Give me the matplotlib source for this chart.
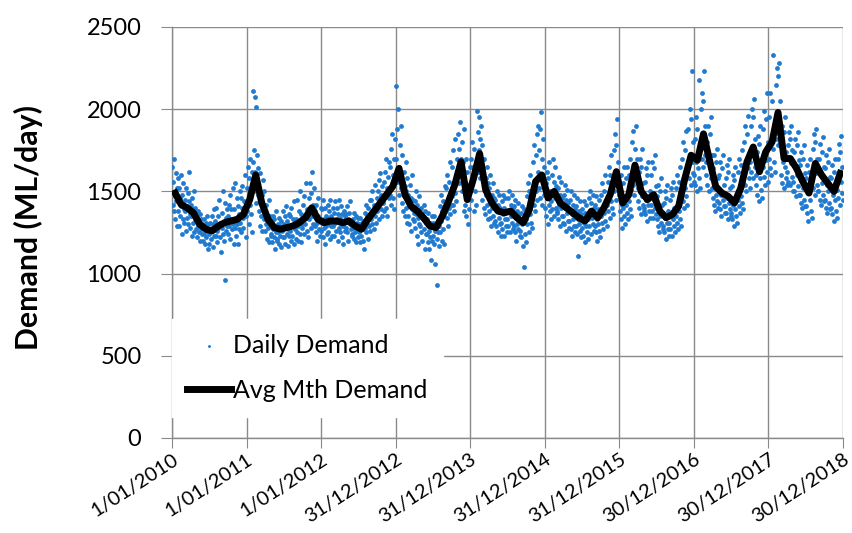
import numpy as np
import matplotlib
matplotlib.use("Agg")
import matplotlib.pyplot as plt
import matplotlib.dates as mdates

years = [2010, 2011, 2012, 2013, 2014, 2015, 2016, 2017, 2018]

# Average monthly demand (ML/day), Jan 2010 .. Dec 2018
monthly_avg = [
    1490, 1420, 1400, 1370, 1300, 1270, 1260, 1290, 1310, 1320, 1330, 1360,
    1450, 1600, 1430, 1330, 1280, 1270, 1280, 1290, 1310, 1340, 1400, 1330,
    1310, 1320, 1320, 1310, 1320, 1290, 1270, 1330, 1380, 1430, 1480, 1530,
    1640, 1480, 1410, 1380, 1340, 1290, 1280, 1350, 1440, 1540, 1680, 1450,
    1580, 1730, 1510, 1430, 1380, 1370, 1380, 1340, 1310, 1390, 1560, 1600,
    1460, 1500, 1430, 1400, 1370, 1340, 1320, 1380, 1340, 1400, 1480, 1620,
    1430, 1480, 1660, 1500, 1450, 1480, 1380, 1340, 1360, 1410, 1580, 1720,
    1690, 1850, 1690, 1530, 1490, 1470, 1430, 1520, 1680, 1770, 1620, 1740,
    1800, 1980, 1700, 1700, 1640, 1560, 1490, 1670, 1600, 1550, 1500, 1610,
]

# Daily demand readings (12 readings per month, in month order)
daily_2010 = [
    1650, 1420, 1560, 1380, 1700, 1470, 1330, 1610, 1440, 1520, 1290, 1580,
    1380, 1520, 1290, 1460, 1350, 1600, 1410, 1240, 1480, 1330, 1550, 1390,
    1310, 1450, 1380, 1520, 1260, 1410, 1340, 1490, 1300, 1440, 1620, 1360,
    1280, 1420, 1350, 1230, 1460, 1310, 1390, 1250, 1500, 1330, 1400, 1270,
    1220, 1340, 1290, 1380, 1250, 1310, 1200, 1360, 1270, 1330, 1240, 1300,
    1200, 1290, 1240, 1330, 1180, 1270, 1310, 1220, 1350, 1260, 1150, 1300,
    1240, 1180, 1310, 1260, 1210, 1350, 1280, 1160, 1300, 1230, 1390, 1270,
    1320, 1230, 1400, 1260, 1190, 1350, 1280, 1450, 1220, 1310, 1130, 1290,
    1280, 1370, 1240, 1500, 1310, 1200, 1430, 960, 1340, 1260, 1390, 1290,
    1350, 1240, 1420, 1290, 1480, 1210, 1330, 1390, 1270, 1520, 1300, 1180,
    1390, 1280, 1550, 1320, 1230, 1460, 1300, 1410, 1180, 1360, 1270, 1500,
    1310, 1460, 1250, 1400, 1530, 1340, 1280, 1440, 1370, 1600, 1220, 1350,
]
daily_2011 = [
    1520, 1380, 1650, 1440, 1300, 1580, 1700, 1420, 1360, 1490, 1620, 1250,
    2110, 1680, 1750, 1500, 2075, 1620, 1430, 2015, 1560, 1720, 1480, 1640,
    1380, 1520, 1290, 1610, 1450, 1350, 1480, 1260, 1570, 1400, 1330, 1500,
    1260, 1380, 1300, 1420, 1210, 1340, 1280, 1450, 1190, 1350, 1310, 1240,
    1230, 1310, 1190, 1350, 1270, 1220, 1330, 1150, 1290, 1250, 1380, 1200,
    1210, 1300, 1250, 1180, 1340, 1230, 1290, 1160, 1320, 1260, 1220, 1380,
    1300, 1220, 1350, 1180, 1280, 1410, 1240, 1320, 1170, 1270, 1360, 1230,
    1260, 1350, 1200, 1400, 1290, 1230, 1330, 1180, 1440, 1270, 1310, 1210,
    1330, 1250, 1450, 1290, 1200, 1380, 1310, 1500, 1240, 1360, 1190, 1300,
    1280, 1420, 1330, 1240, 1470, 1350, 1300, 1550, 1260, 1390, 1220, 1340,
    1460, 1330, 1550, 1380, 1280, 1490, 1620, 1350, 1420, 1300, 1520, 1390,
    1290, 1380, 1250, 1420, 1310, 1200, 1350, 1460, 1270, 1330, 1230, 1400,
]
daily_2012 = [
    1260, 1390, 1310, 1450, 1220, 1330, 1280, 1400, 1180, 1350, 1290, 1240,
    1340, 1250, 1420, 1300, 1380, 1210, 1450, 1290, 1350, 1230, 1320, 1400,
    1290, 1370, 1230, 1440, 1310, 1260, 1400, 1330, 1200, 1360, 1280, 1450,
    1250, 1340, 1300, 1410, 1220, 1360, 1290, 1180, 1380, 1310, 1260, 1350,
    1360, 1280, 1410, 1250, 1330, 1200, 1370, 1300, 1440, 1270, 1320, 1230,
    1240, 1330, 1280, 1370, 1210, 1300, 1250, 1350, 1190, 1310, 1270, 1340,
    1220, 1300, 1250, 1340, 1190, 1280, 1230, 1310, 1200, 1320, 1150, 1270,
    1280, 1370, 1250, 1420, 1300, 1350, 1210, 1400, 1290, 1330, 1450, 1260,
    1330, 1450, 1300, 1500, 1380, 1270, 1420, 1350, 1540, 1310, 1400, 1460,
    1380, 1500, 1420, 1570, 1330, 1460, 1610, 1390, 1480, 1350, 1530, 1440,
    1430, 1560, 1380, 1620, 1470, 1700, 1400, 1520, 1350, 1590, 1460, 1680,
    1480, 1650, 1420, 1760, 1530, 1850, 1460, 1600, 1390, 1700, 1550, 1820,
]
daily_2013 = [
    2140, 1700, 1880, 1560, 2000, 1650, 1480, 1780, 1600, 1900, 1520, 1720,
    1430, 1560, 1380, 1620, 1470, 1350, 1530, 1680, 1400, 1500, 1310, 1580,
    1350, 1480, 1300, 1540, 1420, 1260, 1460, 1390, 1600, 1330, 1450, 1370,
    1320, 1440, 1280, 1500, 1360, 1230, 1420, 1340, 1180, 1470, 1300, 1390,
    1290, 1400, 1250, 1360, 1200, 1330, 1420, 1270, 1150, 1380, 1310, 1240,
    1240, 1330, 1190, 1370, 1260, 1150, 1310, 1220, 1080, 1290, 1350, 1200,
    1230, 1310, 1180, 1350, 1260, 1060, 1290, 1210, 930, 1320, 1250, 1170,
    1290, 1410, 1250, 1480, 1320, 1200, 1380, 1440, 1270, 1350, 1180, 1530,
    1380, 1520, 1340, 1600, 1450, 1290, 1560, 1400, 1680, 1360, 1490, 1420,
    1470, 1650, 1420, 1750, 1530, 1380, 1820, 1490, 1600, 1440, 1700, 1560,
    1600, 1850, 1550, 1760, 1920, 1640, 1700, 1500, 1800, 1580, 1680, 1880,
    1380, 1560, 1420, 1700, 1350, 1500, 1620, 1300, 1460, 1540, 1390, 1650,
]
daily_2014 = [
    1520, 1700, 1450, 1800, 1580, 1650, 1380, 1760, 1500, 1620, 1420, 1680,
    1990, 1700, 1860, 1620, 1950, 1750, 1580, 1820, 1680, 1900, 1640, 1780,
    1450, 1620, 1400, 1700, 1520, 1360, 1580, 1480, 1650, 1420, 1550, 1330,
    1380, 1520, 1340, 1600, 1430, 1290, 1480, 1400, 1550, 1350, 1460, 1310,
    1320, 1450, 1290, 1500, 1380, 1250, 1420, 1340, 1480, 1300, 1400, 1230,
    1310, 1440, 1270, 1480, 1360, 1230, 1400, 1330, 1460, 1290, 1380, 1250,
    1330, 1460, 1290, 1500, 1380, 1250, 1420, 1350, 1480, 1310, 1400, 1270,
    1290, 1410, 1250, 1450, 1340, 1200, 1380, 1300, 1430, 1270, 1360, 1230,
    1260, 1370, 1220, 1410, 1300, 1170, 1340, 1040, 1390, 1240, 1330, 1190,
    1330, 1470, 1300, 1550, 1390, 1250, 1500, 1360, 1600, 1310, 1430, 1280,
    1480, 1680, 1420, 1780, 1550, 1380, 1720, 1500, 1850, 1450, 1620, 1900,
    1520, 1750, 1460, 1880, 1600, 1980, 1420, 1700, 1550, 1820, 1480, 1650,
]
daily_2015 = [
    1400, 1550, 1350, 1620, 1460, 1300, 1580, 1420, 1680, 1380, 1500, 1330,
    1440, 1600, 1390, 1700, 1480, 1350, 1560, 1460, 1650, 1400, 1530, 1370,
    1380, 1520, 1330, 1590, 1420, 1290, 1480, 1400, 1560, 1350, 1460, 1310,
    1350, 1480, 1300, 1540, 1400, 1260, 1450, 1370, 1510, 1320, 1430, 1280,
    1320, 1450, 1270, 1500, 1360, 1230, 1420, 1330, 1480, 1290, 1390, 1250,
    1290, 1410, 1240, 1460, 1330, 1110, 1380, 1300, 1440, 1260, 1360, 1220,
    1280, 1390, 1230, 1440, 1310, 1190, 1370, 1290, 1420, 1250, 1340, 1210,
    1330, 1460, 1290, 1500, 1370, 1240, 1430, 1340, 1480, 1300, 1400, 1260,
    1290, 1420, 1250, 1470, 1330, 1200, 1390, 1300, 1450, 1260, 1360, 1220,
    1350, 1480, 1310, 1550, 1400, 1270, 1500, 1370, 1600, 1320, 1430, 1290,
    1420, 1560, 1380, 1650, 1470, 1340, 1600, 1440, 1720, 1400, 1520, 1360,
    1560, 1750, 1500, 1850, 1620, 1450, 1780, 1580, 1940, 1530, 1680, 1480,
]
daily_2016 = [
    1380, 1520, 1330, 1600, 1420, 1280, 1550, 1400, 1650, 1350, 1470, 1300,
    1420, 1580, 1370, 1650, 1470, 1330, 1600, 1440, 1700, 1390, 1510, 1350,
    1600, 1800, 1540, 1870, 1650, 1480, 1760, 1620, 1900, 1560, 1700, 1520,
    1440, 1620, 1400, 1700, 1500, 1360, 1650, 1470, 1760, 1420, 1550, 1380,
    1400, 1560, 1360, 1640, 1450, 1320, 1600, 1420, 1680, 1380, 1500, 1340,
    1420, 1600, 1380, 1680, 1470, 1340, 1640, 1450, 1720, 1400, 1530, 1360,
    1330, 1470, 1290, 1540, 1380, 1250, 1500, 1350, 1580, 1310, 1420, 1270,
    1290, 1430, 1250, 1500, 1340, 1210, 1460, 1310, 1540, 1270, 1380, 1230,
    1310, 1450, 1270, 1520, 1360, 1230, 1480, 1330, 1560, 1290, 1400, 1250,
    1350, 1520, 1310, 1600, 1420, 1270, 1560, 1380, 1650, 1330, 1460, 1290,
    1500, 1700, 1440, 1800, 1580, 1400, 1750, 1520, 1870, 1470, 1640, 1420,
    1640, 1880, 1580, 2000, 1720, 1540, 1940, 1680, 2230, 1610, 1800, 1560,
]
daily_2017 = [
    1600, 1820, 1540, 1950, 1680, 1500, 1880, 1640, 2180, 1580, 1750, 1520,
    1760, 2000, 1700, 2100, 1820, 1650, 2050, 1780, 2230, 1720, 1900, 1680,
    1600, 1800, 1540, 1900, 1680, 1500, 1850, 1640, 1950, 1580, 1720, 1520,
    1460, 1640, 1420, 1720, 1520, 1380, 1680, 1480, 1760, 1440, 1580, 1400,
    1430, 1600, 1390, 1680, 1480, 1350, 1640, 1450, 1720, 1410, 1540, 1370,
    1410, 1580, 1370, 1660, 1460, 1330, 1620, 1430, 1700, 1390, 1520, 1350,
    1370, 1530, 1330, 1600, 1420, 1290, 1570, 1390, 1650, 1350, 1470, 1310,
    1450, 1620, 1410, 1700, 1500, 1370, 1660, 1470, 1750, 1430, 1560, 1390,
    1600, 1800, 1540, 1900, 1680, 1500, 1850, 1640, 1960, 1580, 1720, 1520,
    1680, 1900, 1620, 2000, 1760, 1580, 1950, 1720, 2060, 1650, 1820, 1600,
    1540, 1740, 1480, 1840, 1620, 1440, 1790, 1580, 1900, 1510, 1660, 1460,
    1650, 1880, 1590, 1990, 1720, 1540, 1940, 1690, 2100, 1620, 1800, 1560,
]
daily_2018 = [
    1700, 1950, 1640, 2100, 1800, 1600, 2050, 1760, 2330, 1680, 1880, 1620,
    1880, 2150, 1820, 2250, 1960, 1780, 2200, 1920, 2280, 1850, 2050, 1800,
    1600, 1820, 1550, 1900, 1680, 1520, 1860, 1650, 1950, 1580, 1740, 1540,
    1620, 1780, 1560, 1860, 1700, 1540, 1820, 1670, 1900, 1590, 1750, 1500,
    1560, 1740, 1500, 1820, 1640, 1470, 1780, 1600, 1860, 1530, 1690, 1480,
    1480, 1660, 1430, 1740, 1560, 1400, 1700, 1520, 1780, 1450, 1610, 1410,
    1410, 1580, 1370, 1660, 1490, 1320, 1620, 1450, 1700, 1380, 1530, 1340,
    1570, 1760, 1520, 1850, 1660, 1480, 1800, 1610, 1880, 1540, 1700, 1500,
    1500, 1700, 1450, 1790, 1600, 1420, 1740, 1550, 1830, 1480, 1650, 1440,
    1450, 1640, 1400, 1720, 1540, 1370, 1680, 1500, 1760, 1430, 1590, 1390,
    1400, 1580, 1360, 1660, 1480, 1320, 1620, 1450, 1700, 1380, 1530, 1340,
    1510, 1700, 1460, 1790, 1600, 1420, 1740, 1560, 1840, 1490, 1650, 1450,
]

tick_dates = ["2010-01-01", "2011-01-01", "2012-01-01", "2012-12-31", "2013-12-31",
              "2014-12-31", "2015-12-31", "2016-12-30", "2017-12-30", "2018-12-30"]
tick_labels = ["1/01/2010", "1/01/2011", "1/01/2012", "31/12/2012", "31/12/2013",
               "31/12/2014", "31/12/2015", "30/12/2016", "30/12/2017", "30/12/2018"]
y_ticks = [0, 500, 1000, 1500, 2000, 2500]

daily_by_year = [daily_2010, daily_2011, daily_2012, daily_2013, daily_2014,
                 daily_2015, daily_2016, daily_2017, daily_2018]

# ---- build x positions from the calendar ----
daily_x, daily_y = [], []
month_x = []
for year, vals in zip(years, daily_by_year):
    vals = np.asarray(vals).reshape(12, -1)
    for m in range(12):
        mstart = np.datetime64(f"{year}-{m + 1:02d}", "M")
        d0 = mstart.astype("datetime64[D]")
        nd = int(((mstart + 1).astype("datetime64[D]") - d0).astype(int))
        base = mdates.date2num(d0)
        n = vals.shape[1]
        daily_x.extend(base + np.arange(n) * nd / n)
        daily_y.extend(vals[m])
        month_x.append(base + nd / 2.0)

plt.rcParams["font.family"] = ["Lato", "DejaVu Sans"]

fig = plt.figure(figsize=(8.53, 5.33), dpi=100)
ax = fig.add_axes([172 / 853, 1 - 438 / 533, (843 - 172) / 853, (438 - 27) / 533])

grid_c = "#8a8a8a"
ax.scatter(daily_x, daily_y, s=12, color="#1f7ad0", linewidths=0, zorder=3,
           label="Daily Demand")
ax.plot(month_x, monthly_avg, color="black", lw=5, solid_joinstyle="round",
        zorder=4, label="Avg Mth Demand")

tick_nums = mdates.date2num(np.array(tick_dates, dtype="datetime64[D]"))
ax.set_xlim(tick_nums[0], tick_nums[-1])
ax.set_ylim(0, 2500)
ax.set_xticks(tick_nums)
ax.set_xticklabels(tick_labels, rotation=33, ha="right", rotation_mode="anchor",
                   fontsize=14.5)
ax.set_yticks(y_ticks)
ax.set_yticklabels([str(v) for v in y_ticks], fontsize=17)

ax.grid(True, color=grid_c, lw=1.0, zorder=0)
ax.set_axisbelow(True)
for s in ["top", "right"]:
    ax.spines[s].set_visible(False)
for s in ["left", "bottom"]:
    ax.spines[s].set_color(grid_c)
    ax.spines[s].set_linewidth(1.0)
ax.tick_params(axis="x", length=7, color=grid_c, pad=2)
ax.tick_params(axis="y", length=8, color=grid_c, pad=14)

fig.text(28 / 853, 1 - 227 / 533, "Demand (ML/day)", rotation=90,
         fontsize=21.8, fontweight="bold", ha="center", va="center")

leg = ax.legend(loc="lower left", bbox_to_anchor=(0.0, 0.051), frameon=True,
                fontsize=18, handlelength=1.75, handletextpad=0.1,
                labelspacing=0.9, markerscale=0.6, borderpad=0.6,
                borderaxespad=0.0)
leg.get_frame().set_facecolor("white")
leg.get_frame().set_edgecolor("white")
leg.get_frame().set_alpha(1.0)
leg.get_frame().set_boxstyle("square", pad=0)
leg.set_zorder(10)

fig.savefig("out.png", dpi=100)
